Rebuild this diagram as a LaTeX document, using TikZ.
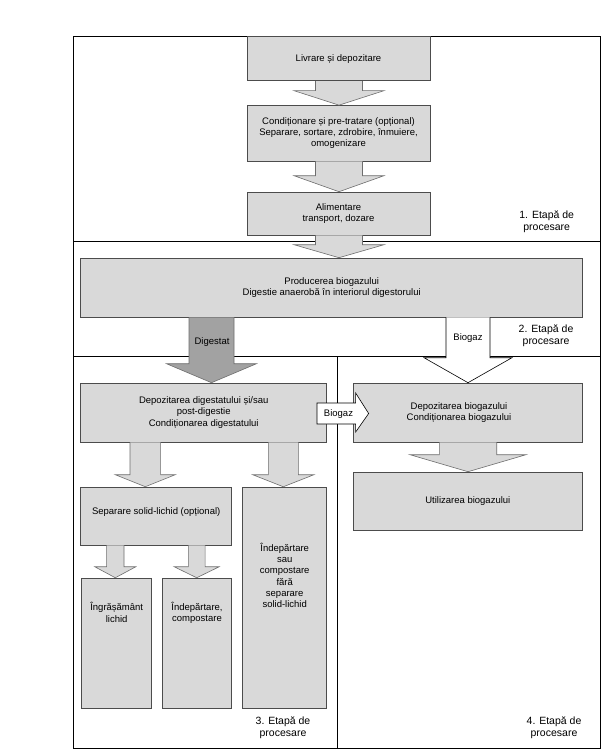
\documentclass[tikz,border=0pt]{standalone}
\usepackage{fontspec}
\setmainfont{Liberation Sans}
\usetikzlibrary{calc}
\definecolor{boxgray}{RGB}{217,217,217}
\definecolor{diggray}{RGB}{162,162,162}
\definecolor{edgegray}{RGB}{110,110,110}
% vertical block arrow: style, from anchor, to anchor, x centre, shaft half width, wing half width, head length
\newcommand\vblock[7]{%
  \path[#1] let \p1=(#2), \p2=(#3) in
    (#4pt+#5pt,\y1) -- (#4pt+#5pt,\y2+#7pt) -- (#4pt+#6pt,\y2+#7pt) -- (#4pt,\y2)
    -- (#4pt-#6pt,\y2+#7pt) -- (#4pt-#5pt,\y2+#7pt) -- (#4pt-#5pt,\y1);}
\begin{document}
\begin{tikzpicture}[x=1pt,y=-1pt,
  frame/.style={draw=black,line width=0.9pt},
  box/.style={draw=black!70,line width=0.6pt,fill=boxgray,inner sep=0pt,align=center,
    font=\fontsize{9.5}{11.3}\selectfont},
  txt/.style={inner sep=0pt,align=center,font=\fontsize{9.5}{11.3}\selectfont},
  stage/.style={inner sep=0pt,align=center,font=\fontsize{10.5}{12}\selectfont},
  garrow/.style={draw=edgegray,fill=boxgray,line width=0.6pt},
  darrow/.style={draw=edgegray,fill=diggray,line width=0.6pt},
  warrow/.style={draw=black,fill=white,line width=0.6pt}]
\useasboundingbox (0,0) rectangle (612,752);
\fill[white] (0,0) rectangle (612,752);

% stage frames
\draw[frame] (73.3,36.7) rectangle (600,241.7);
\draw[frame] (73.3,241.7) rectangle (600,356);
\draw[frame] (73.3,356) rectangle (337.3,748.3);
\draw[frame] (337.3,356) rectangle (600,748.3);

% boxes
\node[box,minimum width=183pt,minimum height=44pt] (liv) at (338.5,58.7) {Livrare și depozitare};
\node[box,minimum width=183pt,minimum height=55.5pt] (cond) at (338.5,133.2)
  {Condiționare și pre-tratare (opțional)\\Separare, sortare, zdrobire, înmuiere,\\omogenizare};
\node[box,minimum width=183pt,minimum height=43pt] (alim) at (338.5,213.5) {Alimentare\\transport, dozare};
\node[box,minimum width=502pt,minimum height=59pt] (prod) at (331.7,287.5)
  {Producerea biogazului\\Digestie anaerobă în interiorul digestorului};
\node[box,minimum width=246pt,minimum height=59pt] (dig) at (203.7,412.5)
  {Depozitarea digestatului și/sau\\post-digestie\\Condiționarea digestatului};
\node[box,minimum width=229.7pt,minimum height=59pt] (depb) at (467.8,412.5) {};
\node[box,minimum width=229.7pt,minimum height=58pt] (util) at (467.8,501) {Utilizarea biogazului};
\node[box,minimum width=151pt,minimum height=58pt] (sep) at (156.2,516) {};
\node[box,minimum width=84pt,minimum height=221.3pt] (tall) at (284.7,597.7) {};
\node[box,minimum width=70pt,minimum height=130.3pt] (ingr) at (116.7,643.2) {};
\node[box,minimum width=69.4pt,minimum height=130.3pt] (indc) at (197,643.2) {};

% texts placed inside boxes
\node[txt] (depbt) at (459,412.5) {Depozitarea biogazului\\Condiționarea biogazului};
\node[txt] (sept) at (156.2,512.5) {Separare solid-lichid (opțional)};
\node[txt] (tallt) at (284.7,575.5) {Îndepărtare\\sau\\compostare\\fără\\separare\\solid-lichid};
\node[txt] (ingrt) at (116.7,612.5) {Îngrășământ\\lichid};
\node[txt] (indct) at (197,612.5) {Îndepărtare,\\compostare};

% block arrows
\vblock{garrow}{liv.south}{cond.north}{339}{23.5}{45}{14.5}
\vblock{garrow}{cond.south}{alim.north}{339}{23.5}{45}{16}
\vblock{garrow}{alim.south}{prod.north}{339}{23.5}{45}{13}
\vblock{darrow}{prod.south}{dig.north}{211.5}{22.5}{45}{19}
\vblock{warrow}{prod.south}{depb.north}{468}{22}{44}{25}
\vblock{garrow}{depb.south}{util.north}{468}{28.7}{58}{17}
\vblock{garrow}{dig.south}{sep.north}{145.3}{15.3}{30}{12}
\vblock{garrow}{dig.south}{tall.north}{283.3}{15}{30.5}{12}
\vblock{garrow}{sep.south}{ingr.north}{115.3}{8.7}{20.5}{11}
\vblock{garrow}{sep.south}{indc.north}{196.7}{8.4}{22.5}{11}

% horizontal Biogaz arrow
\draw[warrow] let \p1=(dig.east), \p2=(depb.west) in
  (\x1-10pt,-403pt) -- (\x2+3pt,-403pt) -- (\x2+3pt,-393pt) -- (\x2+16pt,-413.5pt)
  -- (\x2+3pt,-432pt) -- (\x2+3pt,-424pt) -- (\x1-10pt,-424pt) -- cycle;

% arrow labels
\node[txt] (digl) at (212,341.7) {Digestat};
\node[txt] (bgl1) at (468,338) {Biogaz};
\node[txt] (bgl2) at (338.5,414) {Biogaz};

% stage labels
\node[stage] (s1) at (546.7,221.7) {1. Etapă de\\procesare};
\node[stage] (s2) at (546,336) {2. Etapă de\\procesare};
\node[stage] (s3) at (283,728) {3. Etapă de\\procesare};
\node[stage] (s4) at (554,728) {4. Etapă de\\procesare};
\end{tikzpicture}
\end{document}
